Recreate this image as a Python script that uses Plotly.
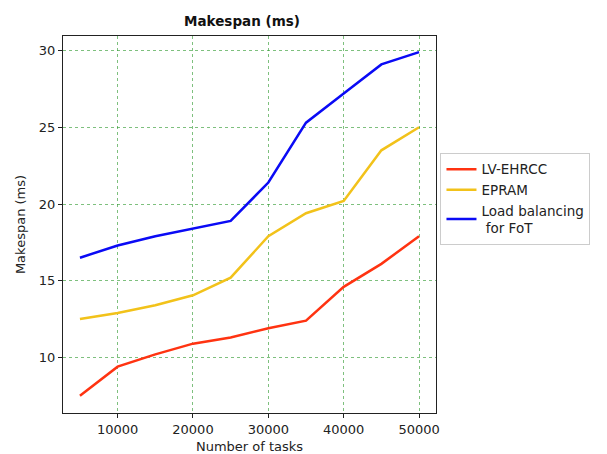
import plotly.graph_objects as go

tasks = [5000, 10000, 15000, 20000, 25000, 30000, 35000, 40000, 45000, 50000]
lv_ehrcc = [7.5, 9.4, 10.2, 10.9, 11.3, 11.9, 12.4, 14.6, 16.1, 17.9]
epram = [12.5, 12.9, 13.4, 14.05, 15.2, 17.9, 19.4, 20.2, 23.5, 25.0]
load_bal = [16.5, 17.3, 17.9, 18.4, 18.9, 21.4, 25.3, 27.2, 29.1, 29.9]
x_ticks = [10000, 20000, 30000, 40000, 50000]
x_tick_labels = ["10000", "20000", "30000", "40000", "50000"]
y_ticks = [10, 15, 20, 25, 30]
y_tick_labels = ["10", "15", "20", "25", "30"]

fig = go.Figure()
fig.add_trace(go.Scatter(x=tasks, y=lv_ehrcc, mode="lines", name="LV-EHRCC",
                         line=dict(color="#ff3311", width=2.5)))
fig.add_trace(go.Scatter(x=tasks, y=epram, mode="lines", name="EPRAM",
                         line=dict(color="#f2c21a", width=2.5)))
fig.add_trace(go.Scatter(x=tasks, y=load_bal, mode="lines", name="Load balancing<br> for FoT",
                         line=dict(color="#0a0af5", width=2.5)))

axis_common = dict(showline=True, linecolor="#222222", linewidth=1, mirror=True,
                   ticks="outside", ticklen=4, tickcolor="#222222", automargin=False,
                   showgrid=True, gridcolor="rgba(40,150,40,0.6)", griddash="dot", gridwidth=0.7,
                   zeroline=False, tickfont=dict(size=13, color="#222222"))

# page body has an 8px margin, so figure origin sits at (8, 8) in the window
W, H = 599, 446
L, T = 55, 28
PW, PH = 372.7, 377

fig.update_layout(
    width=W, height=H,
    margin=dict(l=L, r=W - L - PW, t=T, b=H - T - PH),
    paper_bgcolor="white", plot_bgcolor="white",
    font=dict(family="DejaVu Sans", size=13, color="#222222"),
    title=dict(text="<b>Makespan (ms)</b>", x=(242 - 8) / W, xanchor="center",
               y=1 - 13 / H, yanchor="middle", font=dict(size=13.5, color="#111111")),
    xaxis=dict(range=[2750, 52250], tickvals=x_ticks, ticktext=x_tick_labels,
               title=dict(text="Number of tasks", standoff=10, font=dict(size=13)), **axis_common),
    yaxis=dict(range=[6.38, 30.95], tickvals=y_ticks, ticktext=y_tick_labels,
               title=dict(text="Makespan (ms)", standoff=10, font=dict(size=13)), **axis_common),
    legend=dict(x=1.012, y=0.69, xanchor="left", yanchor="top",
                bordercolor="#cccccc", borderwidth=1, bgcolor="white",
                font=dict(size=13.5), tracegroupgap=0, itemwidth=30),
    showlegend=True,
)

fig.write_html("out.html")
